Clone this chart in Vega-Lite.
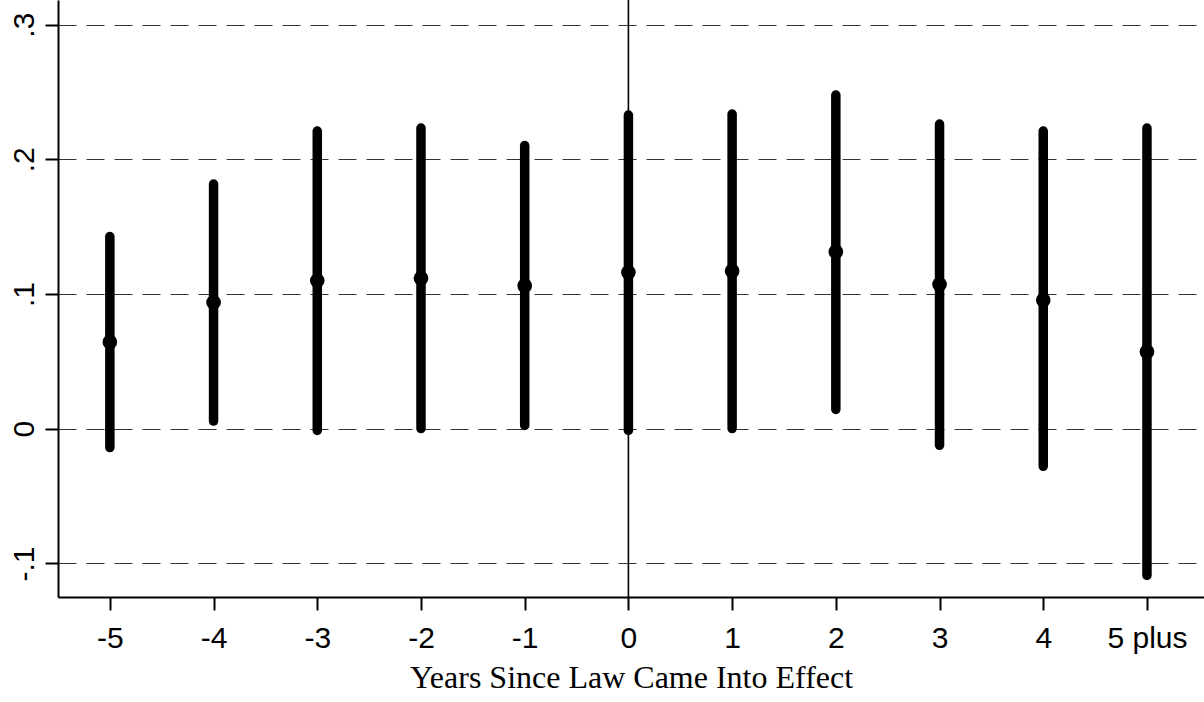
{
  "$schema": "https://vega.github.io/schema/vega-lite/v6.json",
  "width": 1146,
  "height": 597,
  "autosize": {"type": "none"},
  "padding": {"left": 58, "top": 0, "right": 0, "bottom": 105},
  "background": "white",
  "config": {
    "view": {"stroke": null},
    "axis": {
      "labelFont": "Liberation Sans",
      "labelFontSize": 30,
      "labelColor": "black",
      "domainColor": "black",
      "domainWidth": 2,
      "tickColor": "black",
      "tickWidth": 2,
      "tickSize": 13,
      "titleFont": "Liberation Serif",
      "titleFontWeight": "normal",
      "titleFontSize": 32,
      "titleColor": "black"
    }
  },
  "datasets": {
    "est": [
      {"year": -5, "lo": -0.014, "hi": 0.1427, "coef": 0.0644},
      {"year": -4, "lo": 0.0057, "hi": 0.1817, "coef": 0.0938},
      {"year": -3, "lo": -0.0013, "hi": 0.221, "coef": 0.110},
      {"year": -2, "lo": 0.0001, "hi": 0.2232, "coef": 0.1117},
      {"year": -1, "lo": 0.0025, "hi": 0.2102, "coef": 0.1062},
      {"year": 0, "lo": -0.0013, "hi": 0.2329, "coef": 0.1161},
      {"year": 1, "lo": 0.0001, "hi": 0.2336, "coef": 0.1171},
      {"year": 2, "lo": 0.0143, "hi": 0.2477, "coef": 0.1314},
      {"year": 3, "lo": -0.0123, "hi": 0.2262, "coef": 0.1072},
      {"year": 4, "lo": -0.0279, "hi": 0.221, "coef": 0.0955},
      {"year": 5, "lo": -0.1089, "hi": 0.2232, "coef": 0.0572}
    ],
    "ref": [{"year": 0}]
  },
  "layer": [
    {
      "data": {"name": "ref"},
      "mark": {"type": "rule", "color": "black", "strokeWidth": 1.6},
      "encoding": {
        "x": {
          "field": "year",
          "type": "quantitative",
          "scale": {"domain": [-5.5, 5.55], "nice": false, "zero": false},
          "axis": {
            "values": [-5, -4, -3, -2, -1, 0, 1, 2, 3, 4, 5],
            "labelExpr": "datum.value == 5 ? '5 plus' : '' + datum.value",
            "grid": false,
            "labelPadding": 13,
            "labelBaseline": "top",
            "title": "Years Since Law Came Into Effect",
            "titleBaseline": "alphabetic",
            "titleY": 90,
            "titleX": 573,
            "titleAlign": "center"
          }
        }
      }
    },
    {
      "data": {"name": "est"},
      "mark": {"type": "rule", "color": "black", "strokeWidth": 9.5, "strokeCap": "round"},
      "encoding": {
        "x": {"field": "year", "type": "quantitative"},
        "y": {
          "field": "lo",
          "type": "quantitative",
          "scale": {"domain": [-0.1249, 0.3183], "nice": false, "zero": false},
          "axis": {
            "values": [-0.1, 0, 0.1, 0.2, 0.3],
            "labelExpr": "datum.value == 0 ? '0' : replace('' + datum.value, '0.', '.')",
            "labelAngle": -90,
            "labelAlign": "center",
            "labelBaseline": "alphabetic",
            "labelPadding": 12,
            "grid": true,
            "gridColor": "#333333",
            "gridWidth": 1,
            "gridDash": [18, 10],
            "title": null
          }
        },
        "y2": {"field": "hi"}
      }
    },
    {
      "data": {"name": "est"},
      "mark": {"type": "circle", "color": "black", "opacity": 1, "size": 215},
      "encoding": {
        "x": {"field": "year", "type": "quantitative"},
        "y": {"field": "coef", "type": "quantitative"}
      }
    }
  ]
}
